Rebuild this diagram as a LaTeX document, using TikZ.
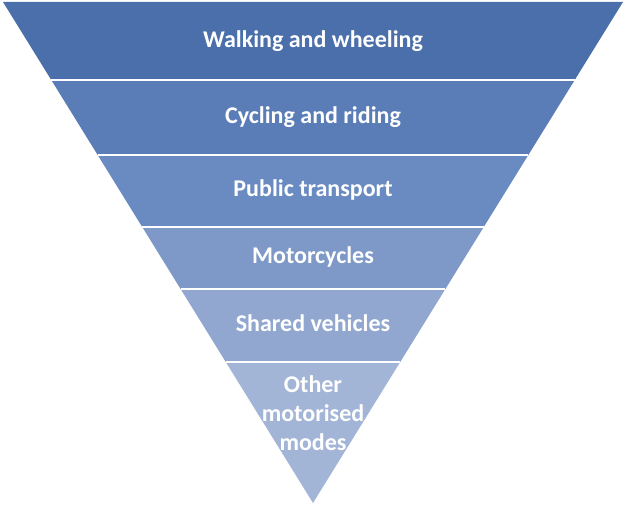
\documentclass[tikz,border=0pt]{standalone}
\usepackage{fontspec}
\setmainfont{Carlito}
\usetikzlibrary{calc}
\definecolor{b1}{HTML}{4A6FAB}
\definecolor{b2}{HTML}{5A7DB7}
\definecolor{b3}{HTML}{6A8BC1}
\definecolor{b4}{HTML}{7E98C8}
\definecolor{b5}{HTML}{91A7CF}
\definecolor{b6}{HTML}{A3B5D7}
\begin{document}
\begin{tikzpicture}[x=1pt,y=-1pt,
  band/.style={draw=white, line width=1.6pt, line join=miter},
  lbl/.style={text=white, font=\bfseries\fontsize{24}{29}\selectfont, align=center, inner sep=0pt}]
\useasboundingbox (0,0) rectangle (625,508);
\coordinate (TL) at (3,2);
\coordinate (TR) at (623,2);
\coordinate (A) at (313,503);
\coordinate (L1) at ($(TL)!0.1557!(A)$);
\coordinate (R1) at ($(TR)!0.1557!(A)$);
\coordinate (L2) at ($(TL)!0.3054!(A)$);
\coordinate (R2) at ($(TR)!0.3054!(A)$);
\coordinate (L3) at ($(TL)!0.4491!(A)$);
\coordinate (R3) at ($(TR)!0.4491!(A)$);
\coordinate (L4) at ($(TL)!0.5729!(A)$);
\coordinate (R4) at ($(TR)!0.5729!(A)$);
\coordinate (L5) at ($(TL)!0.7186!(A)$);
\coordinate (R5) at ($(TR)!0.7186!(A)$);
\fill[b1] (TL) -- (TR) -- (R1) -- (L1) -- cycle;
\fill[b2] (L1) -- (R1) -- (R2) -- (L2) -- cycle;
\fill[b3] (L2) -- (R2) -- (R3) -- (L3) -- cycle;
\fill[b4] (L3) -- (R3) -- (R4) -- (L4) -- cycle;
\fill[b5] (L4) -- (R4) -- (R5) -- (L5) -- cycle;
\fill[b6] (L5) -- (R5) -- (A) -- cycle;
\foreach \i in {1,...,5} \draw[band] (L\i) -- (R\i);
\node[lbl] (t1) at (313,41) {Walking and wheeling};
\node[lbl] (t2) at (313,117) {Cycling and riding};
\node[lbl] (t3) at (313,190) {Public transport};
\node[lbl] (t4) at (313,257) {Motorcycles};
\node[lbl] (t5) at (313,323) {Shared vehicles};
\node[lbl] (t6) at (313,413) {Other\\motorised\\modes};
\end{tikzpicture}
\end{document}
